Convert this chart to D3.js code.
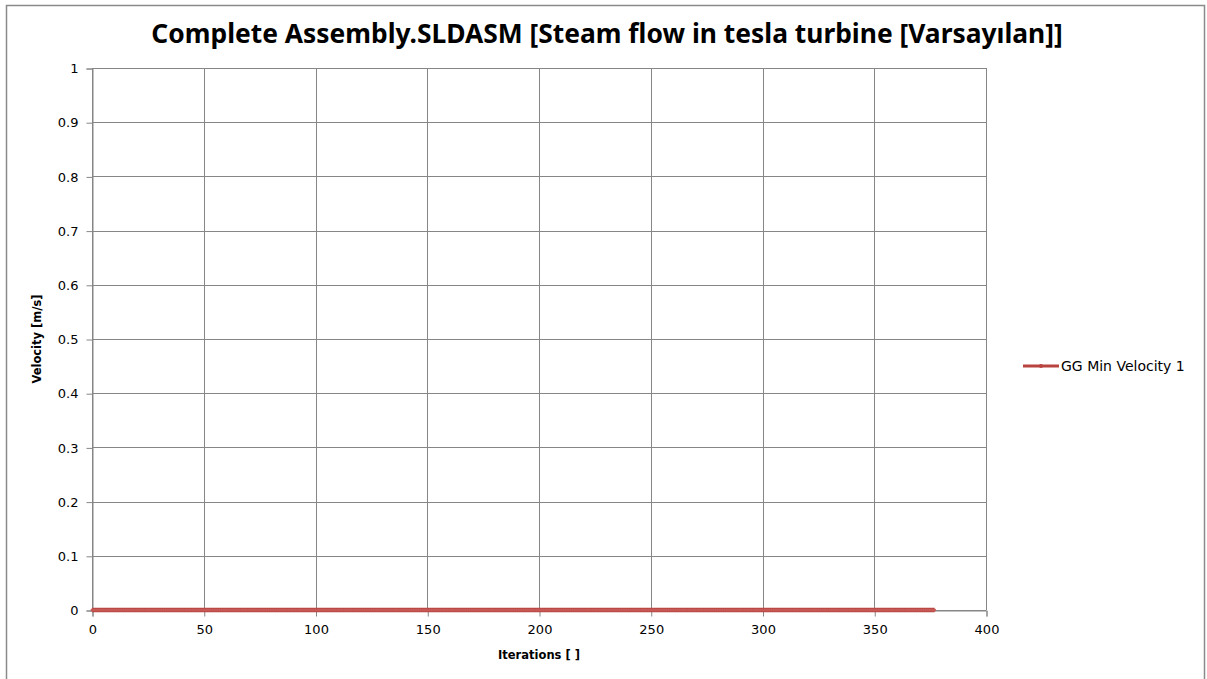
<!DOCTYPE html>
<html>
<head>
<meta charset="utf-8">
<script src="https://cdn.jsdelivr.net/npm/d3@7"></script>
<style>
  html, body { margin: 0; padding: 0; background: #fff; }
  svg { display: block; font-family: "DejaVu Sans", "Noto Sans", sans-serif; }
</style>
</head>
<body>
<svg id="chart" width="1207" height="679"></svg>
<script>
const titleText = "Complete Assembly.SLDASM [Steam flow in tesla turbine [Varsayılan]]";
const xLabel = "Iterations [ ]";
const yLabel = "Velocity [m/s]";
const seriesName = "GG Min Velocity 1";
const xTicks = [0, 50, 100, 150, 200, 250, 300, 350, 400];
const yTicks = [0, 0.1, 0.2, 0.3, 0.4, 0.5, 0.6, 0.7, 0.8, 0.9, 1];
const firstIteration = 0;
// GG Min Velocity 1 : value at every iteration (all read as 0)
const minVelocity = [
0,0,0,0,0,0,0,0,0,0,0,0,0,0,0,0,0,0,0,0,0,0,0,0,0,0,0,
0,0,0,0,0,0,0,0,0,0,0,0,0,0,0,0,0,0,0,0,0,0,0,0,0,0,0,
0,0,0,0,0,0,0,0,0,0,0,0,0,0,0,0,0,0,0,0,0,0,0,0,0,0,0,
0,0,0,0,0,0,0,0,0,0,0,0,0,0,0,0,0,0,0,0,0,0,0,0,0,0,0,
0,0,0,0,0,0,0,0,0,0,0,0,0,0,0,0,0,0,0,0,0,0,0,0,0,0,0,
0,0,0,0,0,0,0,0,0,0,0,0,0,0,0,0,0,0,0,0,0,0,0,0,0,0,0,
0,0,0,0,0,0,0,0,0,0,0,0,0,0,0,0,0,0,0,0,0,0,0,0,0,0,0,
0,0,0,0,0,0,0,0,0,0,0,0,0,0,0,0,0,0,0,0,0,0,0,0,0,0,0,
0,0,0,0,0,0,0,0,0,0,0,0,0,0,0,0,0,0,0,0,0,0,0,0,0,0,0,
0,0,0,0,0,0,0,0,0,0,0,0,0,0,0,0,0,0,0,0,0,0,0,0,0,0,0,
0,0,0,0,0,0,0,0,0,0,0,0,0,0,0,0,0,0,0,0,0,0,0,0,0,0,0,
0,0,0,0,0,0,0,0,0,0,0,0,0,0,0,0,0,0,0,0,0,0,0,0,0,0,0,
0,0,0,0,0,0,0,0,0,0,0,0,0,0,0,0,0,0,0,0,0,0,0,0,0,0,0,
0,0,0,0,0,0,0,0,0,0,0,0,0,0,0,0,0,0,0,0,0,0,0,0,0,0,0
];
const seriesColor = "#B9433F";

const svg = d3.select("#chart");

// outer chart border
svg.append("rect").attr("x", 6.5).attr("y", 5.5).attr("width", 1198).attr("height", 690)
  .attr("fill", "#fff").attr("stroke", "#8a8a8a").attr("stroke-width", 1.5);

const plot = { left: 92, right: 986, top: 68, bottom: 610 };
const x = d3.scaleLinear().domain([0, 400]).range([plot.left, plot.right]);
const y = d3.scaleLinear().domain([0, 1]).range([plot.bottom, plot.top]);

const grid = svg.append("g");
grid.selectAll("line.v").data(xTicks).join("line")
  .attr("x1", d => Math.round(x(d)) + 0.5).attr("x2", d => Math.round(x(d)) + 0.5)
  .attr("y1", plot.top).attr("y2", plot.bottom)
  .attr("stroke", "#868686").attr("stroke-width", 1);
grid.selectAll("line.h").data(yTicks).join("line")
  .attr("x1", plot.left).attr("x2", plot.right)
  .attr("y1", d => Math.round(y(d)) + 0.5).attr("y2", d => Math.round(y(d)) + 0.5)
  .attr("stroke", "#868686").attr("stroke-width", 1);

// axes
const xAxis = d3.axisBottom(x).tickValues(xTicks).tickSize(6).tickPadding(8).tickFormat(d3.format("d"));
const yAxis = d3.axisLeft(y).tickValues(yTicks).tickSize(6).tickPadding(8).tickFormat(d => d === 0 ? "0" : d === 1 ? "1" : d3.format(".1f")(d));
const gx = svg.append("g").attr("transform", `translate(0.5,${plot.bottom + 0.5})`).call(xAxis);
const gy = svg.append("g").attr("transform", `translate(${plot.left + 0.5},0.5)`).call(yAxis);
[gx, gy].forEach(g => {
  g.select(".domain").attr("stroke", "#868686");
  g.selectAll(".tick line").attr("stroke", "#868686");
  g.selectAll(".tick text").attr("fill", "#000").style("font-size", "13px")
    .style("font-family", "'DejaVu Sans', sans-serif");
});

// series
const pts = minVelocity.map((v, i) => ({ it: firstIteration + i, v }));
const line = d3.line().x(d => x(d.it)).y(d => y(d.v));
svg.append("path").datum(pts).attr("d", line)
  .attr("fill", "none").attr("stroke", seriesColor).attr("stroke-width", 4.5);
svg.append("g").selectAll("circle").data(pts).join("circle")
  .attr("cx", d => x(d.it)).attr("cy", d => y(d.v)).attr("r", 1.5)
  .attr("fill", "#c55a57");

// title (sized to the reference width)
const title = svg.append("text").attr("x", 607).attr("y", 43).attr("text-anchor", "middle")
  .style("font-size", "22px").style("font-weight", "bold").attr("fill", "#000")
  .style("font-family", "'Noto Sans', sans-serif")
  .text(titleText);
const tw = title.node().getComputedTextLength();
title.style("font-size", (22 * 912 / tw).toFixed(2) + "px");

// axis titles
svg.append("text").attr("x", (plot.left + plot.right) / 2).attr("y", 659).attr("text-anchor", "middle")
  .style("font-size", "11.5px").style("font-weight", "bold").text(xLabel);
svg.append("text").attr("transform", `translate(41,${(plot.top + plot.bottom) / 2}) rotate(-90)`)
  .attr("text-anchor", "middle").style("font-size", "11.5px").style("font-weight", "bold").text(yLabel);

// legend
const lg = svg.append("g").attr("transform", "translate(1023,366)");
lg.append("line").attr("x1", 0).attr("x2", 36).attr("y1", 0).attr("y2", 0)
  .attr("stroke", seriesColor).attr("stroke-width", 3);
lg.append("circle").attr("cx", 18).attr("cy", 0).attr("r", 2).attr("fill", seriesColor);
lg.append("text").attr("x", 38).attr("y", 5).style("font-size", "14px").text(seriesName);
</script>
</body>
</html>
